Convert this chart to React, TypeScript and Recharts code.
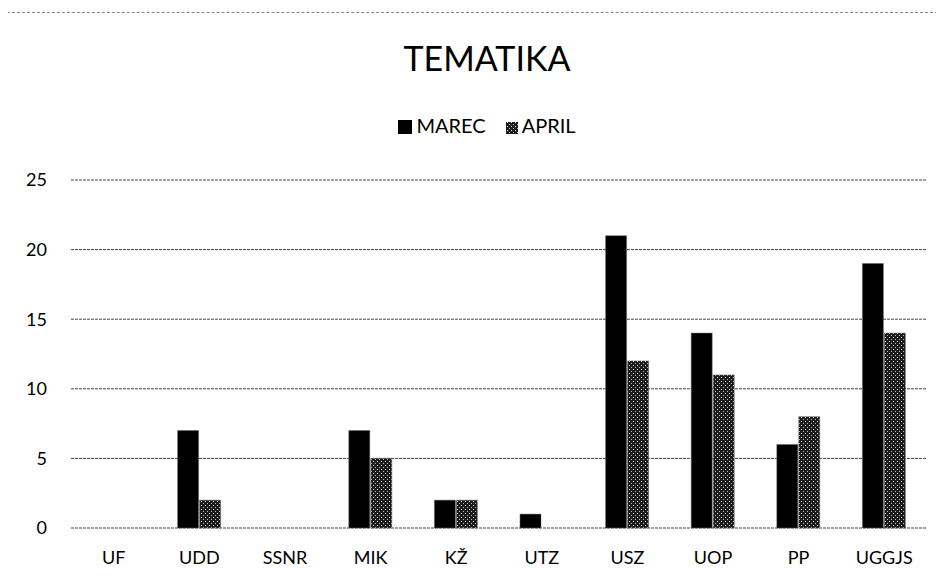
import { Bar, BarChart, CartesianGrid, XAxis, YAxis } from 'recharts';

const categories = ['UF', 'UDD', 'SSNR', 'MIK', 'KŽ', 'UTZ', 'USZ', 'UOP', 'PP', 'UGGJS'];
const marec = [0, 7, 0, 7, 2, 1, 21, 14, 6, 19];
const april = [0, 2, 0, 5, 2, 0, 12, 11, 8, 14];
const yTicks = [0, 5, 10, 15, 20, 25];

const data = categories.map((name, i) => ({ name, MAREC: marec[i], APRIL: april[i] }));

const FONT = 'Lato, "Open Sans", sans-serif';

const AprilSwatch = () => (
  <svg width={12} height={12} style={{ verticalAlign: '-1px', marginRight: 4 }}>
    <defs>
      <pattern id="aprilLeg" width={4} height={4} patternUnits="userSpaceOnUse">
        <rect width={4} height={4} fill="#1c1c1c" />
        <rect x={1} y={0} width={1} height={1} fill="#ddd" />
        <rect x={3} y={2} width={1} height={1} fill="#bbb" />
      </pattern>
    </defs>
    <rect width={12} height={12} fill="url(#aprilLeg)" />
  </svg>
);

export default function App() {
  return (
    <div
      style={{
        position: 'relative',
        width: 935,
        height: 562,
        marginTop: 4,
        marginLeft: -1,
        borderTop: '1px dashed #888',
        borderLeft: '1px dashed #888',
        fontFamily: FONT,
        background: '#fff',
      }}
    >
      <div
        style={{
          position: 'absolute',
          top: 24,
          left: 15,
          width: 928,
          textAlign: 'center',
          fontSize: 34,
          color: '#000',
        }}
      >
        TEMATIKA
      </div>
      <div
        style={{
          position: 'absolute',
          top: 100,
          left: 15,
          width: 928,
          textAlign: 'center',
          fontSize: 20,
          color: '#000',
        }}
      >
        <span style={{ display: 'inline-block', width: 14, height: 14, background: '#000', verticalAlign: '-1px', marginRight: 4 }} />
        <span style={{ marginRight: 20 }}>MAREC</span>
        <AprilSwatch />
        <span>APRIL</span>
      </div>
      <BarChart
        width={934}
        height={562}
        data={data}
        margin={{ top: 167, right: 15, bottom: 17, left: 0 }}
        barGap={1}
        barSize={21}
      >
        <defs>
          <pattern id="aprilPat" width={4} height={4} patternUnits="userSpaceOnUse">
            <rect width={4} height={4} fill="#1c1c1c" />
            <rect x={1} y={0} width={1} height={1} fill="#ddd" />
            <rect x={3} y={2} width={1} height={1} fill="#bbb" />
          </pattern>
        </defs>
        <CartesianGrid vertical={false} stroke="#444" strokeDasharray="3 1" />
        <XAxis
          dataKey="name"
          axisLine={false}
          tickLine={false}
          tickSize={0}
          tickMargin={23}
          tick={{ fill: '#000', fontSize: 18, fontFamily: FONT }}
        />
        <YAxis
          width={63}
          domain={[0, 25]}
          ticks={yTicks}
          axisLine={false}
          tickLine={false}
          tickSize={0}
          tickMargin={24}
          tick={{ fill: '#000', fontSize: 18, fontFamily: FONT }}
        />
        <Bar dataKey="MAREC" fill="#000" stroke="#666" strokeWidth={0.5} isAnimationActive={false} />
        <Bar dataKey="APRIL" fill="url(#aprilPat)" stroke="#666" strokeWidth={0.5} isAnimationActive={false} />
      </BarChart>
    </div>
  );
}
